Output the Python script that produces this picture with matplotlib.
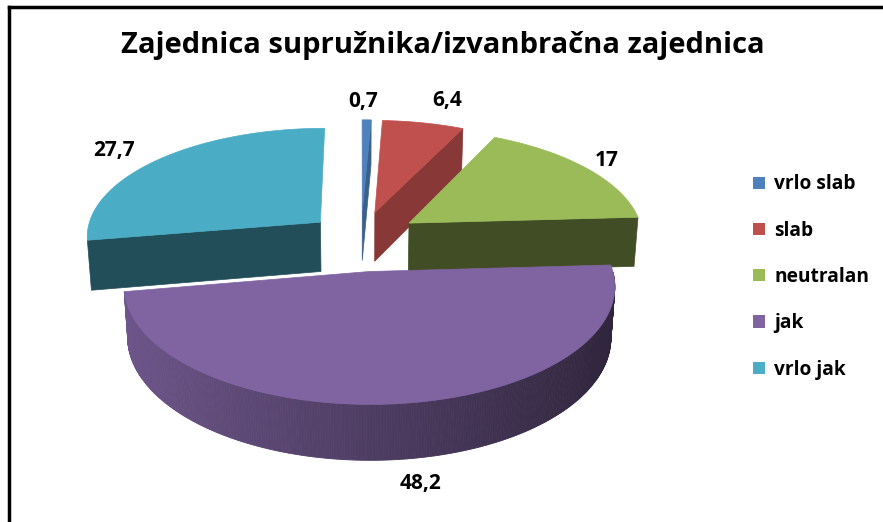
import numpy as np
import matplotlib.pyplot as plt
from matplotlib.colors import to_rgb
from matplotlib.lines import Line2D
from matplotlib.patches import Patch, Polygon

plt.rcParams["font.family"] = ["Open Sans", "DejaVu Sans"]

categories = ["vrlo slab", "slab", "neutralan", "jak", "vrlo jak"]
values = [0.7, 6.4, 17, 48.2, 27.7]
value_labels = ["0,7", "6,4", "17", "48,2", "27,7"]
colors = ["#4F81BD", "#C0504D", "#9BBB59", "#8064A2", "#4BACC6"]
title = "Zajednica supružnika/izvanbračna zajednica"

# 3D pie layout (pixels, world units of pie radius)
CX, CY, SCALE = 361, 238, 235
ELEV = np.radians(27.5)
DIST = 7.5
HEIGHT = 0.243
EXPLODE = [0.25, 0.25, 0.25, 0.30, 0.23]
LABEL_R = [1.48, 1.53, 1.4, 1.45, 1.48]
LABEL_NUDGE = [(-4, 0), (12, 0), (-4, 0), (14, 0), (-8, 6)]


def project(u, v, h):
    y = v * np.sin(ELEV) + h * np.cos(ELEV)
    z = v * np.cos(ELEV) - h * np.sin(ELEV)
    k = DIST / (DIST + z)
    return CX + SCALE * u * k, CY - SCALE * y * k


def shade(color, f):
    return tuple(np.clip(np.array(to_rgb(color)) * f, 0, 1))


fig = plt.figure(figsize=(8.83, 5.22), dpi=100)
ax = fig.add_axes([0, 0, 1, 1])
ax.set_xlim(0, 883)
ax.set_ylim(522, 0)
ax.axis("off")

fracs = np.array(values) / np.sum(values)
edges = np.concatenate([[0], np.cumsum(fracs)]) * 2 * np.pi

wedges = []
for i in range(len(values)):
    a0, a1 = edges[i], edges[i + 1]
    mid = (a0 + a1) / 2
    ou, ov = EXPLODE[i] * np.sin(mid), EXPLODE[i] * np.cos(mid)
    wedges.append((ov, i, a0, a1, mid, ou))

# back to front
wedges.sort(key=lambda w: -w[0])

z = 1
for ov, i, a0, a1, mid, ou in wedges:
    col = colors[i]
    n = max(int((a1 - a0) / 0.01), 4)
    t = np.linspace(a0, a1, n)
    us, vs = ou + np.sin(t), ov + np.cos(t)

    # radial cut faces
    for ang, normal in ((a0, a0 - np.pi / 2), (a1, a1 + np.pi / 2)):
        if np.cos(normal) < -0.01:
            ru, rv = ou + np.sin(ang), ov + np.cos(ang)
            pts = [project(ou, ov, 0), project(ru, rv, 0),
                   project(ru, rv, -HEIGHT), project(ou, ov, -HEIGHT)]
            f = 0.41 + 0.35 * max(0, np.sin(normal) - 0.05)
            c = shade(col, f)
            ax.add_patch(Polygon(pts, closed=True, fc=c, ec=c, lw=0.5, zorder=z))

    # outer rim, shaded left to right (only the front wedge shows it)
    front = np.cos((t[:-1] + t[1:]) / 2) < 0
    if front.sum() * (t[1] - t[0]) > 0.3:
        for j in np.where(front)[0]:
            tm = (t[j] + t[j + 1]) / 2
            f = 0.86 - 0.25 * (1 + np.sin(tm))
            c = shade(col, f)
            pts = [project(us[j], vs[j], 0), project(us[j + 1], vs[j + 1], 0),
                   project(us[j + 1], vs[j + 1], -HEIGHT),
                   project(us[j], vs[j], -HEIGHT)]
            ax.add_patch(Polygon(pts, closed=True, fc=c, ec=c, lw=0.6, zorder=z))

    # top face
    top = [project(ou, ov, 0)] + [project(a, b, 0) for a, b in zip(us, vs)]
    ax.add_patch(Polygon(top, closed=True, fc=col, ec=col, lw=0.5, zorder=z + 1))
    z += 2

# value labels
for i, lab in enumerate(value_labels):
    mid = (edges[i] + edges[i + 1]) / 2
    r = LABEL_R[i]
    h = -HEIGHT if np.cos(mid) < 0 else 0
    x, y = project(r * np.sin(mid), r * np.cos(mid), h)
    dx, dy = LABEL_NUDGE[i]
    ax.text(x + dx, y + dy, lab, ha="center", va="center", fontsize=15,
            fontweight="bold", color="black", zorder=50)

ax.text(443, 45, title, ha="center", va="center", fontsize=21,
        fontweight="bold", color="black")

handles = [Patch(facecolor=c, edgecolor="none") for c in colors]
fig.legend(handles, categories, loc="center left",
           bbox_to_anchor=(736 / 883, 1 - 277 / 522), frameon=False,
           prop={"weight": "bold", "size": 13.8},
           handlelength=0.6, handleheight=0.6, handletextpad=0.5,
           labelspacing=1.37)

# chart frame (top and left edges visible)
fig.add_artist(Line2D([9 / 883, 1], [1 - 7 / 522, 1 - 7 / 522], color="black", lw=2.5))
fig.add_artist(Line2D([9 / 883, 9 / 883], [0, 1 - 7 / 522], color="black", lw=2.5))

fig.savefig("out.png", dpi=100)
